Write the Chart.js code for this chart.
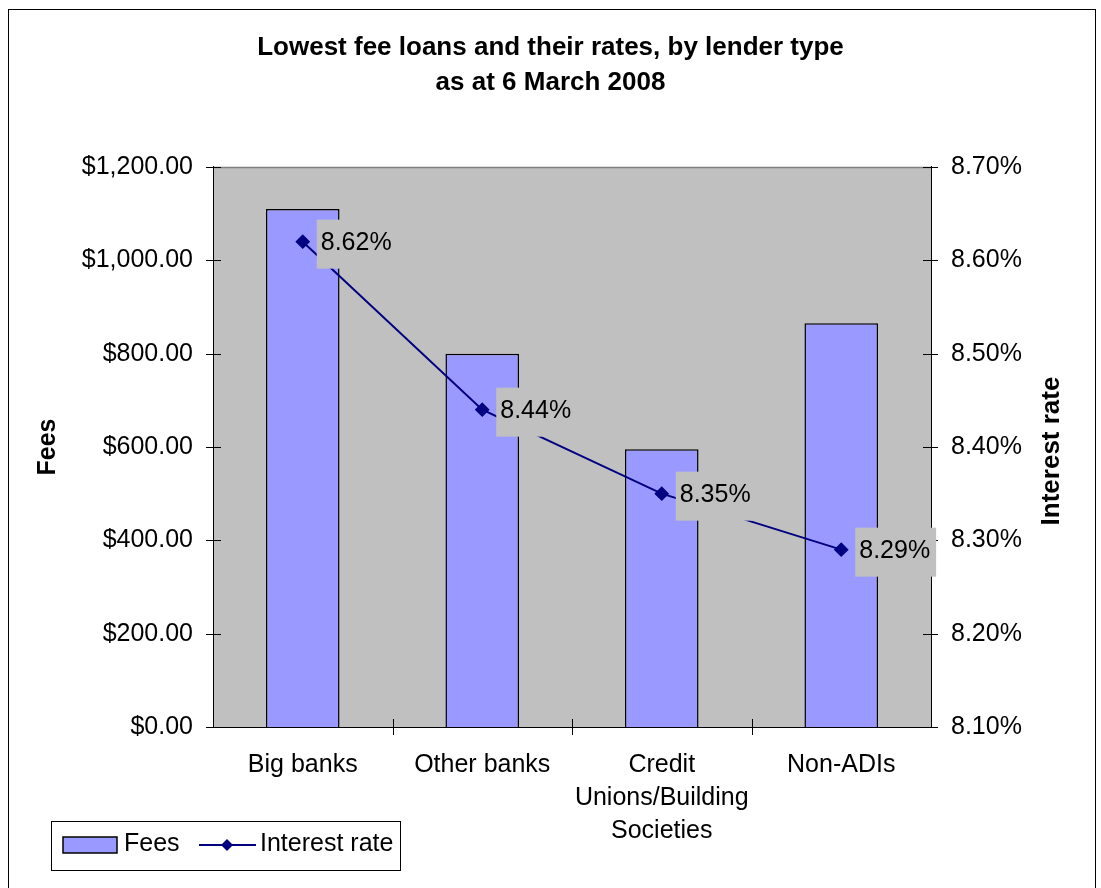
<!DOCTYPE html>
<html>
<head>
<meta charset="utf-8">
<script src="https://cdn.jsdelivr.net/npm/chart.js@4/dist/chart.umd.min.js"></script>
<style>
  html, body { margin: 0; padding: 0; background: #fff; }
  canvas { display: block; }
</style>
</head>
<body>
<canvas id="c" width="1101" height="888"></canvas>
<script>
// ---- Data ----
const categories = ['Big banks', 'Other banks', ['Credit', 'Unions/Building', 'Societies'], 'Non-ADIs'];
const fees = [1110, 800, 595, 865];
const rates = [8.62, 8.44, 8.35, 8.29];
const feeTicks = [0, 200, 400, 600, 800, 1000, 1200];
const rateTicks = [8.1, 8.2, 8.3, 8.4, 8.5, 8.6, 8.7];
const titleLines = ['Lowest fee loans and their rates, by lender type', 'as at 6 March 2008'];
const seriesNames = ['Fees', 'Interest rate'];
const axisTitles = ['Fees', 'Interest rate'];

const FONT = 'Liberation Sans, Arial, sans-serif';
Chart.defaults.font.family = FONT;
Chart.defaults.color = '#000';

const fmtFee = v => '$' + Number(v).toLocaleString('en-US', {minimumFractionDigits: 2, maximumFractionDigits: 2});
const fmtRate = v => Number(v).toFixed(2) + '%';

const decorPlugin = {
  id: 'decor',
  beforeDraw(chart) {
    const ctx = chart.ctx, a = chart.chartArea;
    ctx.save();
    ctx.fillStyle = '#fff';
    ctx.fillRect(0, 0, chart.width, chart.height);
    ctx.strokeStyle = '#000';
    ctx.lineWidth = 1;
    ctx.strokeRect(8.5, 9.5, 1087, 900);
    ctx.fillStyle = '#c0c0c0';
    ctx.fillRect(a.left, a.top, a.right - a.left, a.bottom - a.top);
    ctx.strokeStyle = '#808080';
    ctx.lineWidth = 1.5;
    ctx.beginPath();
    ctx.moveTo(a.left, a.top + 0.5);
    ctx.lineTo(a.right, a.top + 0.5);
    ctx.stroke();
    ctx.restore();
  },
  afterDatasetsDraw(chart) {
    const ctx = chart.ctx, a = chart.chartArea;
    const y = chart.scales.y, y1 = chart.scales.y1, x = chart.scales.x;
    ctx.save();
    ctx.strokeStyle = '#000';
    ctx.lineWidth = 1;
    y.ticks.forEach(t => {
      const py = Math.round(y.getPixelForValue(t.value)) + 0.5;
      ctx.beginPath(); ctx.moveTo(a.left - 7, py); ctx.lineTo(a.left + 8, py); ctx.stroke();
    });
    y1.ticks.forEach(t => {
      const py = Math.round(y1.getPixelForValue(t.value)) + 0.5;
      ctx.beginPath(); ctx.moveTo(a.right - 8, py); ctx.lineTo(a.right + 7, py); ctx.stroke();
    });
    const n = categories.length;
    for (let i = 1; i < n; i++) {
      const px = Math.round((x.getPixelForValue(i - 1) + x.getPixelForValue(i)) / 2) + 0.5;
      ctx.beginPath(); ctx.moveTo(px, a.bottom - 8); ctx.lineTo(px, a.bottom + 8); ctx.stroke();
    }
    const meta = chart.getDatasetMeta(0);
    ctx.font = '25px ' + FONT;
    ctx.textBaseline = 'middle';
    ctx.textAlign = 'left';
    meta.data.forEach((pt, i) => {
      const txt = fmtRate(chart.data.datasets[0].data[i]);
      const w = ctx.measureText(txt).width + 10;
      const bx = pt.x + 14, by = pt.y - 22;
      ctx.fillStyle = '#c0c0c0';
      ctx.fillRect(bx, by, w, 49);
      ctx.fillStyle = '#000';
      ctx.fillText(txt, bx + 4, pt.y + 1);
    });
    ctx.restore();
  },
  afterDraw(chart) {
    const ctx = chart.ctx;
    ctx.save();
    ctx.font = 'bold 26px ' + FONT;
    ctx.fillStyle = '#000';
    ctx.textAlign = 'center';
    ctx.textBaseline = 'middle';
    ctx.translate(1052, (chart.chartArea.top + chart.chartArea.bottom) / 2 + 4);
    ctx.rotate(-Math.PI / 2);
    ctx.fillText(axisTitles[1], 0, 0);
    ctx.restore();

    const ds = chart.data.datasets;
    ctx.save();
    ctx.fillStyle = '#fff';
    ctx.fillRect(51.5, 821.5, 349, 49);
    ctx.strokeStyle = '#000';
    ctx.lineWidth = 1;
    ctx.strokeRect(51.5, 821.5, 349, 49);
    const cy = 845;
    ctx.fillStyle = ds[1].backgroundColor;
    ctx.fillRect(63, cy - 8, 54, 16);
    ctx.lineWidth = 1.5;
    ctx.strokeStyle = ds[1].borderColor;
    ctx.strokeRect(63, cy - 8, 54, 16);
    ctx.font = '25px ' + FONT;
    ctx.fillStyle = '#000';
    ctx.textBaseline = 'middle';
    ctx.textAlign = 'left';
    ctx.fillText(ds[1].label, 124, cy - 1);
    ctx.strokeStyle = ds[0].borderColor;
    ctx.lineWidth = 2;
    ctx.beginPath(); ctx.moveTo(199, cy); ctx.lineTo(256, cy); ctx.stroke();
    ctx.fillStyle = ds[0].pointBackgroundColor;
    ctx.beginPath();
    ctx.moveTo(227, cy - 6); ctx.lineTo(233, cy); ctx.lineTo(227, cy + 6); ctx.lineTo(221, cy);
    ctx.closePath(); ctx.fill();
    ctx.fillStyle = '#000';
    ctx.fillText(ds[0].label, 260, cy - 1);
    ctx.restore();
  }
};

new Chart(document.getElementById('c'), {
  data: {
    labels: categories,
    datasets: [
      {
        type: 'line',
        label: seriesNames[1],
        data: rates,
        yAxisID: 'y1',
        borderColor: '#000080',
        borderWidth: 2,
        pointStyle: 'rectRot',
        pointRadius: 6,
        pointHoverRadius: 6,
        pointBackgroundColor: '#000080',
        pointBorderColor: '#000080',
        tension: 0,
        order: 0
      },
      {
        type: 'bar',
        label: seriesNames[0],
        data: fees,
        yAxisID: 'y',
        backgroundColor: '#9999ff',
        borderColor: '#000',
        borderWidth: 1.5,
        categoryPercentage: 1,
        barPercentage: 0.41,
        order: 1
      }
    ]
  },
  options: {
    responsive: false,
    animation: false,
    devicePixelRatio: 1,
    layout: { padding: 0 },
    plugins: {
      legend: { display: false },
      tooltip: { enabled: false },
      title: {
        display: true,
        text: titleLines,
        font: { size: 26, weight: 'bold', lineHeight: 1.365 },
        color: '#000',
        padding: { top: 30, bottom: 66 }
      }
    },
    scales: {
      x: {
        type: 'category',
        grid: { display: false, drawTicks: false },
        border: { display: true, color: '#000', width: 1 },
        ticks: { font: { size: 25, lineHeight: 1.32 }, color: '#000', padding: 22, maxRotation: 0, autoSkip: false },
        afterFit: s => { s.height = 161; }
      },
      y: {
        type: 'linear',
        position: 'left',
        min: 0, max: 1200,
        grid: { display: false, drawTicks: false },
        border: { display: true, color: '#000', width: 1 },
        ticks: { font: { size: 25 }, color: '#000', padding: 20, callback: v => fmtFee(v) },
        afterBuildTicks: s => { s.ticks = feeTicks.map(v => ({ value: v })); },
        title: { display: true, text: axisTitles[0], font: { size: 25, weight: 'bold', lineHeight: 1.2 }, color: '#000', padding: { top: 33, bottom: 0 } },
        afterFit: s => { s.width = 213; }
      },
      y1: {
        type: 'linear',
        position: 'right',
        min: 8.1, max: 8.7,
        grid: { display: false, drawTicks: false, drawOnChartArea: false },
        border: { display: true, color: '#000', width: 1 },
        ticks: { font: { size: 25 }, color: '#000', padding: 20, callback: v => fmtRate(v) },
        afterBuildTicks: s => { s.ticks = rateTicks.map(v => ({ value: v })); },
        afterFit: s => { s.width = 170; }
      }
    }
  },
  plugins: [decorPlugin]
});
</script>
</body>
</html>
